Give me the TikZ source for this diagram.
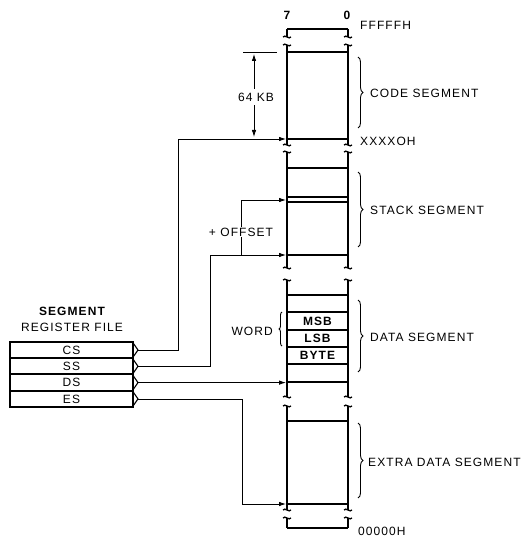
\documentclass[12pt,tikz,border=0pt]{standalone}
\usepackage{fontspec}
\setmainfont{Liberation Sans}[LetterSpace=9]
\usetikzlibrary{arrows.meta,positioning,calc,decorations.pathreplacing}
\tikzset{
  memline/.style={line width=2.2pt},
  brk/.style={line width=1.3pt},
  wire/.style={line width=0.8pt},
  ar/.style={-{Latex[length=7pt,width=4.5pt]}, wire},
  regrow/.style={rectangle, draw, line width=2pt, minimum width=123pt,
                 minimum height=16.3pt, inner sep=0pt, outer sep=0pt},
  cell/.style={font=\bfseries, inner sep=0pt},
  seglbl/.style={anchor=west, inner sep=1pt},
  segbrace/.style={decorate, decoration={brace, amplitude=5pt}, line width=0.9pt},
}

\begin{document}
\begin{tikzpicture}[x=1pt, y=-1pt]
  \useasboundingbox (0,0) rectangle (525,537);

  % ============ memory column ============
  \foreach \ya/\yb in {29/37, 45/145, 152/268, 280/397, 406/510, 518/528} {
    \draw[memline] (287,\ya) -- (287,\yb);
    \draw[memline] (348,\ya) -- (348,\yb);
  }
  % break marks
  \foreach \y in {37, 45, 145, 152, 268, 280, 397, 406, 510, 518}
    \foreach \x in {287, 348}
      \draw[brk] (\x-4,\y) .. controls (\x-2,\y-3) and (\x+2,\y+3) .. (\x+4,\y);
  % byte boundaries
  \foreach \y in {29, 52, 139, 168, 197, 202, 255, 295, 312, 330, 347, 364, 382, 421, 504, 528}
    \draw[memline] (287,\y) -- (348,\y);

  \node[font=\bfseries, inner sep=0pt] (bit7) at (287,15) {7};
  \node[font=\bfseries, inner sep=0pt] (bit0) at (347,15) {0};
  \node[seglbl] (top) at (359,25) {FFFFFH};
  \node[seglbl] (codeaddr) at (359,141) {XXXXOH};
  \node[seglbl] (bottom) at (357,531) {00000H};

  \node[cell] (msb) at (317.5,321) {MSB};
  \node[cell] (lsb) at (317.5,338.5) {LSB};
  \node[cell] (byte) at (317.5,355.5) {BYTE};

  % ============ segment braces ============
  \draw[segbrace] (358,57) -- (358,128);
  \node[seglbl] (codelbl) at (369,93) {CODE SEGMENT};
  \draw[segbrace] (358,172) -- (358,247);
  \node[seglbl] (stacklbl) at (369,210) {STACK SEGMENT};
  \draw[segbrace] (358,300) -- (358,372);
  \node[seglbl] (datalbl) at (369,337) {DATA SEGMENT};
  \draw[segbrace] (358,423) -- (358,498);
  \node[seglbl] (extralbl) at (367,462) {EXTRA DATA SEGMENT};

  \draw[segbrace, decoration={brace, amplitude=3pt}] (282,346) -- (282,312);
  \node[anchor=east, inner sep=1pt] (word) at (274,331) {WORD};

  % ============ 64 KB span ============
  \coordinate (kbtop) at (254,54);
  \coordinate (kbbot) at (254,137);
  \draw[wire] (243,52) -- (277,52);
  \node (kb) at (256,97) {64 KB};
  \draw[ar] (kb.north -| kbtop) -- (kbtop);
  \draw[ar] (kb.south -| kbbot) -- (kbbot);

  % ============ segment register file ============
  \node[font=\bfseries, inner sep=0pt] (reghdr) at (72,311) {SEGMENT};
  \node[inner sep=0pt] (regsub) at (72,327) {REGISTER FILE};
  \node[regrow] (cs) at (71.5,350) {CS};
  \node[regrow, below=0pt of cs] (ss) {SS};
  \node[regrow, below=0pt of ss] (ds) {DS};
  \node[regrow, below=0pt of ds] (es) {ES};
  \foreach \r in {cs, ss, ds, es}
    \draw[line width=1.1pt] ([yshift=-1pt]\r.north east) -- ([xshift=5pt]\r.east)
      -- ([yshift=1pt]\r.south east);

  % ============ base pointers ============
  \coordinate (codebase) at (286,139);
  \coordinate (stackbase) at (286,255);
  \coordinate (stackoff) at (286,200);
  \coordinate (database) at (286,382);
  \coordinate (extrabase) at (286,504);
  \coordinate (csup) at (178,139);
  \coordinate (ssup) at (210,255);
  \coordinate (offfoot) at (241,255);
  \coordinate (esdown) at (242,504);

  \draw[ar] ([xshift=5pt]cs.east) -| (csup) -- (codebase);
  \draw[ar] ([xshift=5pt]ss.east) -| (ssup) -- (stackbase);
  \draw[ar] (offfoot) |- (stackoff);
  \node[fill=white, inner sep=1pt] (offset) at (241,232) {+ OFFSET};
  \draw[ar] ([xshift=5pt]ds.east) -- (ds.east -| database);
  \draw[ar] ([xshift=5pt]es.east) -| (esdown) -- (extrabase);

\end{tikzpicture}
\end{document}
